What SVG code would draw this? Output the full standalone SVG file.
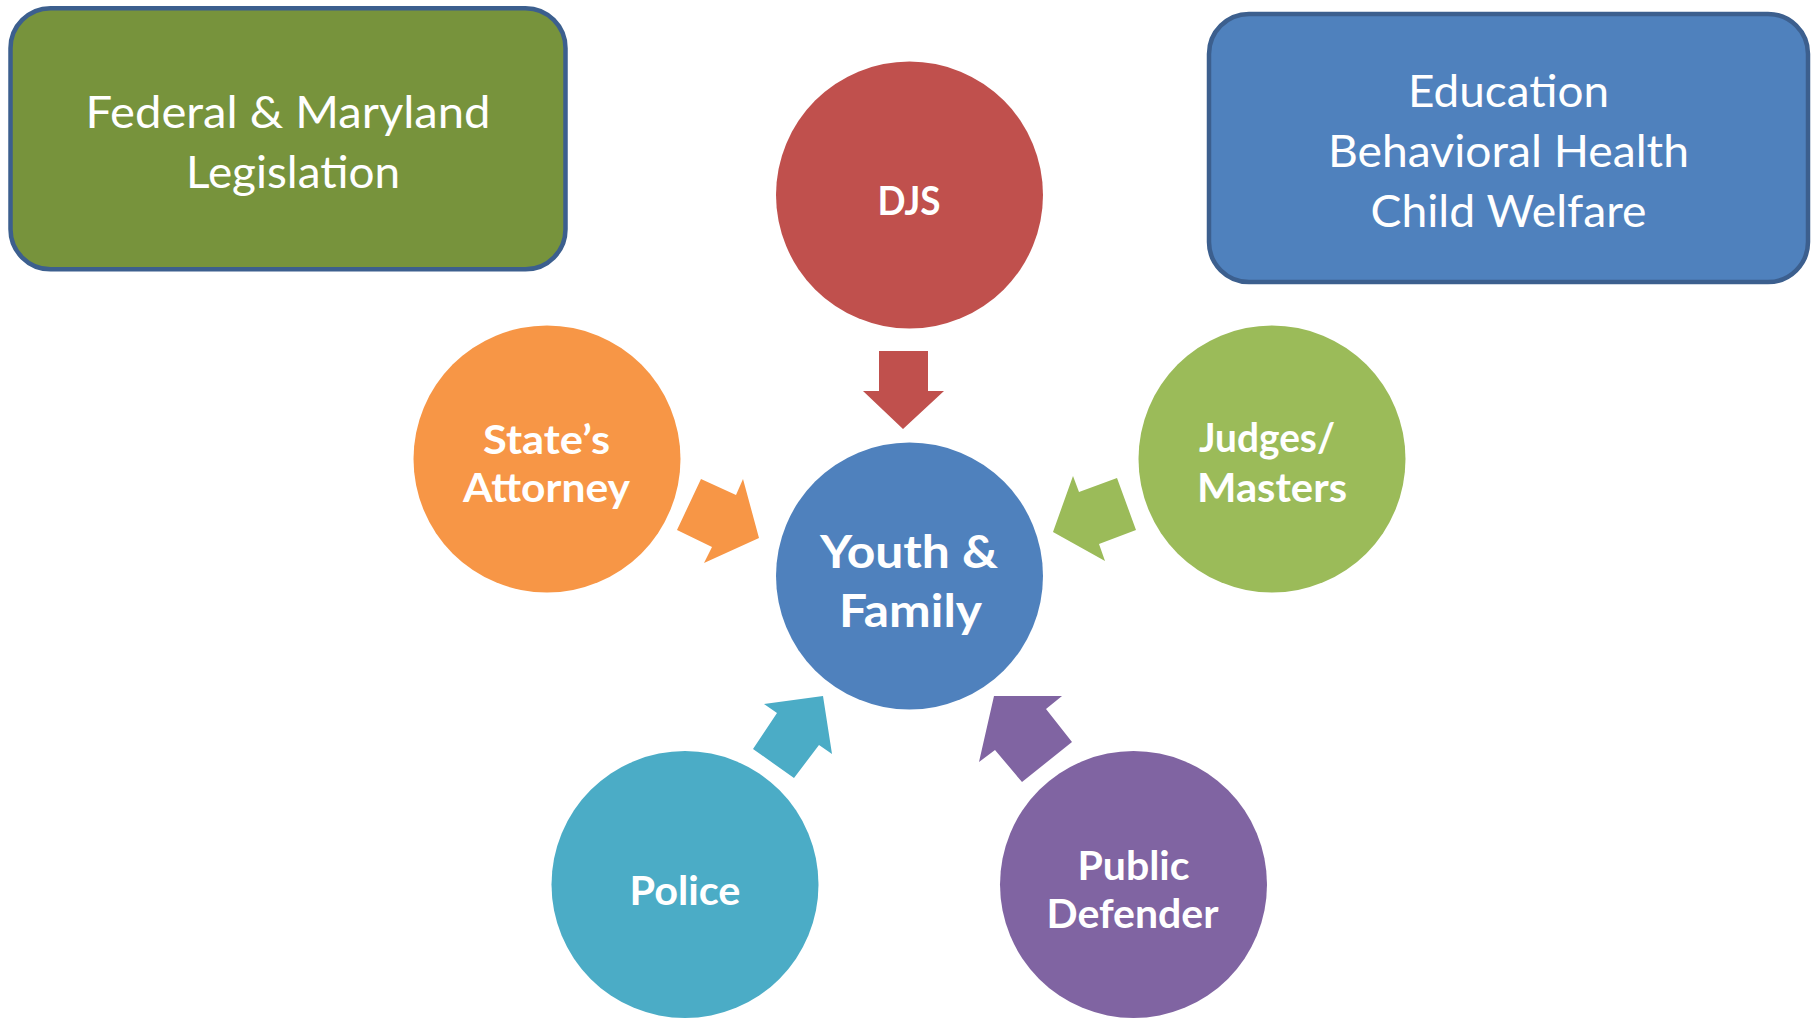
<svg xmlns="http://www.w3.org/2000/svg" width="1818" height="1018" viewBox="0 0 1818 1018">
<style>
.box{stroke:#3C5F8E;stroke-width:4.5}
.bt{font-family:Lato,"Open Sans","Liberation Sans",sans-serif;font-size:45px;fill:#FFFFFF;text-anchor:middle}
.ct{font-family:Lato,"Open Sans","Liberation Sans",sans-serif;font-weight:bold;font-size:40px;fill:#FFFFFF;text-anchor:middle}
.big{font-size:46px}
</style>
<rect width="1818" height="1018" fill="#FFFFFF"/>
<g id="legislation">
<rect class="box" x="10.5" y="8.25" width="555" height="261" rx="40" fill="#77933C"/>
<text class="bt" x="288" y="128" textLength="405" lengthAdjust="spacingAndGlyphs">Federal &amp; Maryland</text>
<text class="bt" x="293" y="188" textLength="214" lengthAdjust="spacingAndGlyphs">Legislation</text>
</g>
<g id="services">
<rect class="box" x="1209" y="14" width="599" height="268" rx="40" fill="#4F81BD"/>
<text class="bt" x="1508.5" y="107" textLength="201" lengthAdjust="spacingAndGlyphs">Education</text>
<text class="bt" x="1508.5" y="166.5" textLength="361" lengthAdjust="spacingAndGlyphs">Behavioral Health</text>
<text class="bt" x="1508.5" y="226.5" textLength="276" lengthAdjust="spacingAndGlyphs">Child Welfare</text>
</g>
<g id="djs">
<circle cx="909.5" cy="195" r="133.5" fill="#C0504D"/>
<text class="ct" x="909" y="215" textLength="63" lengthAdjust="spacingAndGlyphs">DJS</text>
</g>
<g id="youth-family">
<circle cx="909.5" cy="576" r="133.5" fill="#4F81BD"/>
<text class="ct big" x="909" y="568" textLength="178" lengthAdjust="spacingAndGlyphs">Youth &amp;</text>
<text class="ct big" x="910.5" y="627" textLength="143" lengthAdjust="spacingAndGlyphs">Family</text>
</g>
<g id="states-attorney">
<circle cx="547" cy="459" r="133.5" fill="#F79646"/>
<text class="ct" x="546.5" y="454" textLength="127" lengthAdjust="spacingAndGlyphs">State’s</text>
<text class="ct" x="546.5" y="502" textLength="167" lengthAdjust="spacingAndGlyphs">Attorney</text>
</g>
<g id="judges-masters">
<circle cx="1272" cy="459" r="133.5" fill="#9BBB59"/>
<text class="ct" x="1267" y="452" textLength="136" lengthAdjust="spacingAndGlyphs">Judges/</text>
<text class="ct" x="1272" y="502" textLength="150" lengthAdjust="spacingAndGlyphs">Masters</text>
</g>
<g id="police">
<circle cx="685" cy="884.5" r="133.5" fill="#4BACC6"/>
<text class="ct" x="685" y="905" textLength="111" lengthAdjust="spacingAndGlyphs">Police</text>
</g>
<g id="public-defender">
<circle cx="1133.5" cy="884.5" r="133.5" fill="#8064A2"/>
<text class="ct" x="1133.5" y="880" textLength="112" lengthAdjust="spacingAndGlyphs">Public</text>
<text class="ct" x="1132.5" y="928" textLength="172" lengthAdjust="spacingAndGlyphs">Defender</text>
</g>
<g id="connectors">
<polygon fill="#C0504D" points="879,351 928,351 928,391 944,391 903,429 863,391 879,391"/>
<polygon fill="#F79646" points="677,530 701,479 736,495 743,479 759,538 704,563 712,547"/>
<polygon fill="#9BBB59" points="1053,532 1073,476 1079,492 1117,478 1136,530 1099,544 1105,561"/>
<polygon fill="#4BACC6" points="823,696 832,754 819,745 794,778 753,749 777,713 764,704"/>
<polygon fill="#8064A2" points="994,696 1062,696 1046,709 1072,742 1022,782 995,750 979,762"/>
</g>
</svg>
